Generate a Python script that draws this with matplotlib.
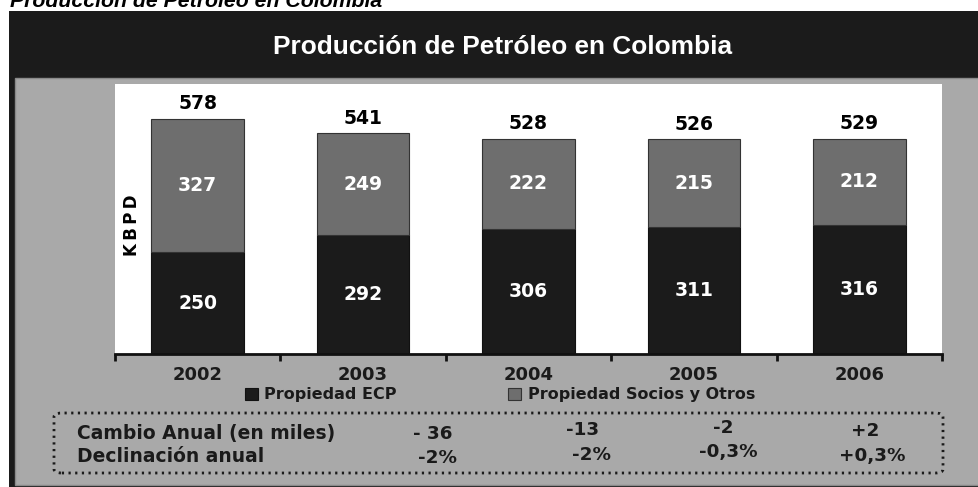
import matplotlib.pyplot as plt
from matplotlib.patches import Rectangle, FancyBboxPatch
import numpy as np

plt.rcParams['font.family'] = ['DejaVu Sans']
plt.rcParams['font.weight'] = 'bold'

years = ['2002', '2003', '2004', '2005', '2006']
ecp = [250, 292, 306, 311, 316]
socios = [327, 249, 222, 215, 212]
totales = [578, 541, 528, 526, 529]

cambio = ['- 36', '-13', '-2', '+2']
declinacion = ['-2%', '-2%', '-0,3%', '+0,3%']

W, H = 979, 487
DARK = '#1b1b1b'
MID = '#6e6e6e'
BG = '#a9a9a9'


def fx(px):
    return px / W


def fy(py):
    return 1 - py / H


fig = plt.figure(figsize=(W / 100, H / 100), dpi=100)
fig.patch.set_facecolor('white')

# dark frame with title band, gray panel underneath
fig.add_artist(Rectangle((fx(9), 0), 1, fy(11), transform=fig.transFigure,
                         facecolor=DARK, edgecolor='none', zorder=0))
fig.add_artist(Rectangle((fx(15), fy(485)), 1, fy(78) - fy(485),
                         transform=fig.transFigure, facecolor=BG,
                         edgecolor='#8a8a8a', linewidth=1, zorder=0))

fig.text(fx(10), fy(7), 'Producción de Petróleo en Colombia', fontsize=15.3,
         family=['Liberation Sans', 'DejaVu Sans'], fontstyle='italic',
         fontweight='bold', ha='left', va='baseline')
fig.text(fx(503), fy(47), 'Producción de Petróleo en Colombia', fontsize=18.9,
         family=['Liberation Sans', 'DejaVu Sans'], color='white',
         fontweight='bold', ha='center', va='center')

ax = fig.add_axes([fx(115), fy(354), fx(942) - fx(115), fy(84) - fy(354)])
ax.set_facecolor('white')
x = np.arange(len(years))
b1 = ax.bar(x, ecp, width=0.56, color=DARK, edgecolor='#111111', linewidth=0.8,
            label='Propiedad ECP', zorder=2)
b2 = ax.bar(x, socios, width=0.56, bottom=ecp, color=MID, edgecolor='#333333',
            linewidth=0.8, label='Propiedad Socios y Otros', zorder=2)

for i in range(len(years)):
    ax.text(x[i], ecp[i] / 2, str(ecp[i]), color='white', fontsize=13.5,
            ha='center', va='center', fontweight='bold')
    ax.text(x[i], ecp[i] + socios[i] / 2, str(socios[i]), color='white',
            fontsize=13.5, ha='center', va='center', fontweight='bold')
    ax.annotate(str(totales[i]), (x[i], totales[i]), xytext=(0, 4),
                textcoords='offset points', ha='center', va='bottom',
                fontsize=13.5, fontweight='bold')

ax.set_xlim(-0.5, 4.5)
ax.set_ylim(0, 662)
ax.set_yticks([])
ax.set_xticks(np.arange(-0.5, 5, 1))
ax.set_xticklabels([])
ax.set_xticks(x, minor=True)
ax.set_xticklabels(years, minor=True, fontsize=13, fontweight='bold', color='#1a1a1a')
ax.tick_params(axis='x', which='major', direction='out', length=5, width=2, color='#111111')
ax.tick_params(axis='x', which='minor', length=0, pad=9)
for side in ['left', 'top', 'right']:
    ax.spines[side].set_visible(False)
ax.spines['bottom'].set_linewidth(2)
ax.spines['bottom'].set_color('#111111')

ax.text(0.021, 0.478, 'K\u2009B\u2009P\u2009D', transform=ax.transAxes, rotation=90,
        fontsize=12, fontweight='bold', ha='center', va='center')

leg = fig.legend(handles=[b1, b2], loc='center', bbox_to_anchor=(fx(500), fy(395)),
                 ncol=2, frameon=False, fontsize=11.5, handlelength=0.8,
                 handleheight=0.7, handletextpad=0.4, columnspacing=7.0)
for t in leg.get_texts():
    t.set_fontweight('bold')
    t.set_color('#1a1a1a')

# dotted summary box
box = FancyBboxPatch((fx(54), fy(473)), fx(943) - fx(54), fy(413) - fy(473),
                     boxstyle='round,pad=0,rounding_size=0.008',
                     transform=fig.transFigure, facecolor='none',
                     edgecolor='#1a1a1a', linewidth=2, linestyle=(0, (0.8, 1.6)))
fig.add_artist(box)

fig.text(fx(77), fy(434), 'Cambio Anual (en miles)', fontsize=13.5,
         ha='left', va='center', color='#1a1a1a')
fig.text(fx(77), fy(457), 'Declinación anual', fontsize=13.5,
         ha='left', va='center', color='#1a1a1a')

cambio_pos = [(433, 434), (583, 430), (723, 428), (865, 431)]
decl_pos = [(438, 458), (592, 455), (728, 452), (872, 456)]
for txt, (px, py) in zip(cambio, cambio_pos):
    fig.text(fx(px), fy(py), txt, fontsize=13.2, ha='center', va='center',
             color='#1a1a1a')
for txt, (px, py) in zip(declinacion, decl_pos):
    fig.text(fx(px), fy(py), txt, fontsize=13.2, ha='center', va='center',
             color='#1a1a1a')

plt.savefig('out.png', dpi=100)
